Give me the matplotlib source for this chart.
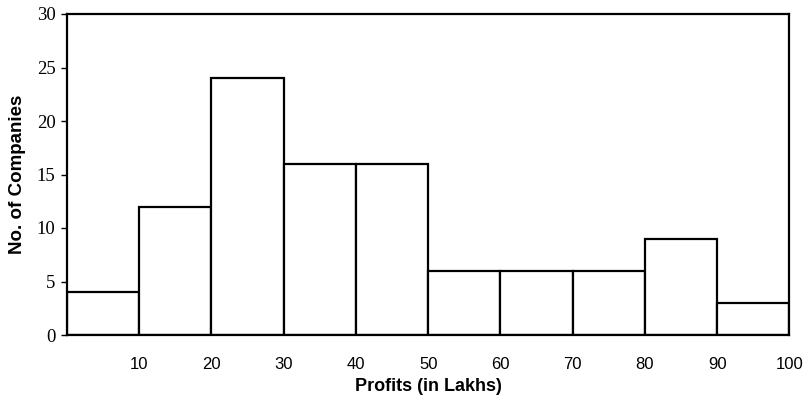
import numpy as np
import matplotlib.pyplot as plt

# class intervals (profits in lakhs) and company counts
bin_edges = [0, 10, 20, 30, 40, 50, 60, 70, 80, 90, 100]
companies = [4, 12, 24, 16, 16, 6, 6, 6, 9, 3]
xtick_labels = ['10', '20', '30', '40', '50', '60', '70', '80', '90', '100']

fig = plt.figure(figsize=(8.04, 4.0), dpi=100)
ax = fig.add_axes([0.0833, 0.1625, 0.8985, 0.8025])

widths = np.diff(bin_edges)
ax.bar(bin_edges[:-1], companies, width=widths, align='edge',
       facecolor='white', edgecolor='black', linewidth=1.6)

ax.set_xlim(0, 100)
ax.set_ylim(0, 30)
ax.set_yticks(range(0, 31, 5))
ax.set_yticklabels([str(v) for v in range(0, 31, 5)], family='Liberation Serif', fontsize=13.5)
ax.set_xticks(bin_edges[1:])
ax.set_xticklabels(xtick_labels, family='Liberation Sans', fontsize=12)
ax.tick_params(axis='x', length=0, pad=16)
ax.tick_params(axis='y', length=4.3, width=1, pad=4)

for s in ax.spines.values():
    s.set_linewidth(1.6)

ax.set_xlabel('Profits (in Lakhs)', family='Liberation Sans', fontweight='bold', fontsize=13, labelpad=4)
ax.set_ylabel('No. of Companies', family='Liberation Sans', fontweight='bold', fontsize=13.5, labelpad=8)

fig.savefig('out.png', dpi=100)
